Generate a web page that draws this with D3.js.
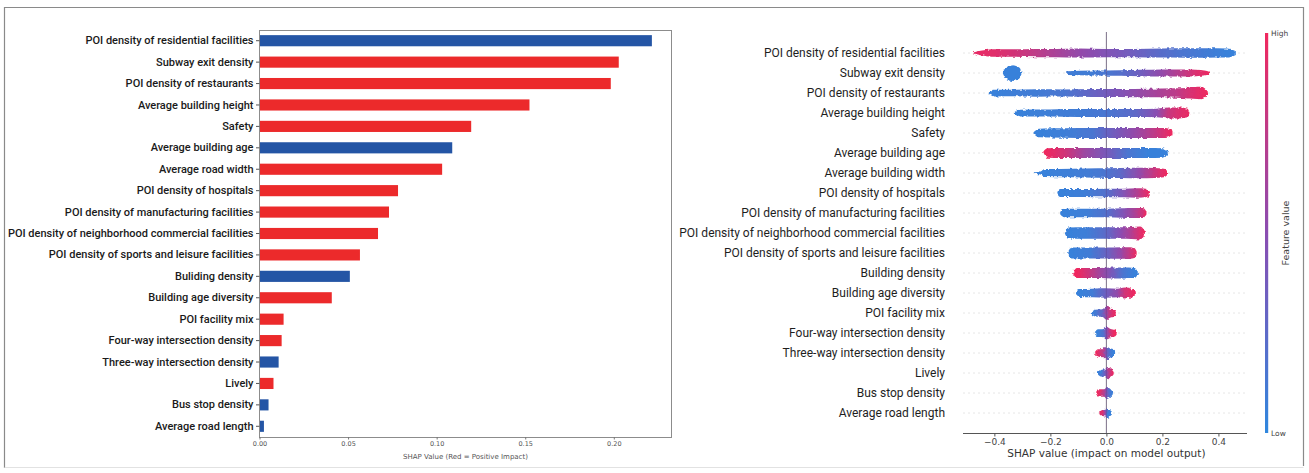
<!DOCTYPE html>
<html>
<head>
<meta charset="utf-8">
<script src="https://cdn.jsdelivr.net/npm/d3@7"></script>
<style>
  html, body { margin: 0; padding: 0; background: #fff; }
  svg { display: block; }
</style>
</head>
<body>
<svg id="chart" width="1309" height="473"></svg>
<script>
// ---------- Left panel: mean SHAP magnitude with direction of impact ----------
const barFeatures = [
  "POI density of residential facilities",
  "Subway exit density",
  "POI density of restaurants",
  "Average building height",
  "Safety",
  "Average building age",
  "Average road width",
  "POI density of hospitals",
  "POI density of manufacturing facilities",
  "POI density of neighborhood commercial facilities",
  "POI density of sports and leisure facilities",
  "Buliding density",
  "Building age diversity",
  "POI facility mix",
  "Four-way intersection density",
  "Three-way intersection density",
  "Lively",
  "Bus stop density",
  "Average road length"
];
const barValues = [0.2215, 0.2028, 0.1983, 0.1524, 0.1195, 0.1088, 0.1031, 0.0782, 0.0731,
                   0.0669, 0.0567, 0.0510, 0.0408, 0.0136, 0.0125, 0.0108, 0.0079, 0.0051, 0.0025];
// +1: positive impact (red), -1: negative impact (blue)
const barSigns = [-1, 1, 1, 1, 1, -1, 1, 1, 1, 1, 1, -1, 1, 1, 1, -1, 1, -1, -1];
const barTicks = [0, 0.05, 0.10, 0.15, 0.20];

// ---------- Right panel: SHAP summary (beeswarm) ----------
const swarmFeatures = [
  "POI density of residential facilities",
  "Subway exit density",
  "POI density of restaurants",
  "Average building height",
  "Safety",
  "Average building age",
  "Average building width",
  "POI density of hospitals",
  "POI density of manufacturing facilities",
  "POI density of neighborhood commercial facilities",
  "POI density of sports and leisure facilities",
  "Building density",
  "Building age diversity",
  "POI facility mix",
  "Four-way intersection density",
  "Three-way intersection density",
  "Lively",
  "Bus stop density",
  "Average road length"
];
// Per feature: [SHAP value, relative point density, mean feature value (0 low .. 1 high)]
const swarmProfiles = [
  [[-0.475,0.08,0.95],[-0.45,0.3,0.95],[-0.40,0.5,0.92],[-0.33,0.5,0.85],[-0.25,0.55,0.75],[-0.18,0.55,0.65],
   [-0.10,0.6,0.55],[0.0,0.55,0.45],[0.10,0.55,0.35],[0.20,0.6,0.22],[0.28,0.62,0.15],[0.36,0.62,0.1],[0.43,0.6,0.05],[0.462,0.25,0.05]],
  [[-0.37,0,0.05],[-0.36,0.7,0.05],[-0.335,1.05,0.05],[-0.31,0.7,0.05],[-0.30,0,0.05],[-0.145,0,0.1],[-0.14,0.25,0.1],
   [-0.05,0.32,0.1],[0.05,0.38,0.2],[0.12,0.42,0.35],[0.20,0.48,0.55],[0.27,0.48,0.75],[0.32,0.42,0.9],[0.355,0.3,0.95],[0.37,0.1,1.0]],
  [[-0.42,0.1,0.05],[-0.40,0.45,0.05],[-0.33,0.42,0.08],[-0.25,0.5,0.1],[-0.15,0.48,0.15],[-0.05,0.52,0.3],
   [0.05,0.52,0.45],[0.15,0.58,0.6],[0.25,0.62,0.75],[0.31,0.78,0.9],[0.34,0.82,0.95],[0.362,0.2,1.0]],
  [[-0.33,0.1,0.05],[-0.31,0.45,0.05],[-0.20,0.48,0.08],[-0.10,0.52,0.1],[0.0,0.52,0.15],[0.10,0.52,0.25],
   [0.18,0.58,0.5],[0.22,0.72,0.8],[0.26,0.72,0.9],[0.29,0.58,0.95],[0.296,0.1,1.0]],
  [[-0.26,0.1,0.05],[-0.24,0.58,0.05],[-0.15,0.62,0.08],[-0.05,0.66,0.15],[0.02,0.66,0.35],[0.10,0.66,0.55],
   [0.17,0.66,0.75],[0.21,0.66,0.9],[0.236,0.3,1.0]],
  [[-0.225,0.2,1.0],[-0.21,0.62,0.98],[-0.15,0.66,0.85],[-0.08,0.66,0.6],[0.0,0.66,0.4],[0.08,0.66,0.15],
   [0.15,0.66,0.05],[0.20,0.62,0.05],[0.219,0.2,0.05]],
  [[-0.255,0.1,0.05],[-0.235,0.2,0.05],[-0.22,0.52,0.05],[-0.12,0.58,0.08],[-0.03,0.62,0.12],[0.05,0.66,0.25],
   [0.12,0.7,0.55],[0.17,0.66,0.8],[0.205,0.58,0.95],[0.219,0.2,1.0]],
  [[-0.175,0.15,0.05],[-0.165,0.52,0.05],[-0.08,0.52,0.08],[0.0,0.58,0.2],[0.06,0.58,0.45],[0.11,0.62,0.7],
   [0.14,0.58,0.9],[0.155,0.2,1.0]],
  [[-0.165,0.15,0.05],[-0.15,0.56,0.05],[-0.07,0.56,0.08],[0.0,0.58,0.2],[0.06,0.62,0.45],[0.10,0.66,0.65],
   [0.13,0.66,0.85],[0.143,0.2,1.0]],
  [[-0.147,0.2,0.05],[-0.135,0.72,0.05],[-0.07,0.76,0.08],[0.0,0.76,0.25],[0.05,0.76,0.5],[0.09,0.8,0.7],
   [0.12,0.86,0.9],[0.137,0.3,1.0]],
  [[-0.136,0.2,0.05],[-0.125,0.72,0.05],[-0.06,0.72,0.1],[0.0,0.72,0.3],[0.05,0.76,0.55],[0.085,0.76,0.8],
   [0.10,0.68,0.92],[0.108,0.2,1.0]],
  [[-0.118,0.2,1.0],[-0.105,0.68,1.0],[-0.07,0.68,0.85],[-0.02,0.68,0.6],[0.02,0.72,0.4],[0.06,0.72,0.15],
   [0.10,0.68,0.05],[0.112,0.2,0.05]],
  [[-0.108,0.15,0.05],[-0.095,0.52,0.05],[-0.05,0.58,0.1],[0.0,0.62,0.35],[0.04,0.58,0.55],[0.065,0.72,0.85],
   [0.09,0.58,0.95],[0.105,0.2,1.0]],
  [[-0.052,0.2,0.05],[-0.04,0.45,0.1],[-0.015,0.5,0.3],[0.0,0.9,0.6],[0.015,0.6,0.85],[0.028,0.45,0.95],[0.034,0.15,1.0]],
  [[-0.04,0.2,0.05],[-0.03,0.5,0.05],[-0.01,0.55,0.2],[0.0,0.85,0.5],[0.015,0.55,0.85],[0.03,0.45,1.0],[0.037,0.15,1.0]],
  [[-0.04,0.2,1.0],[-0.03,0.5,0.95],[-0.01,0.55,0.7],[0.0,0.85,0.4],[0.015,0.6,0.1],[0.026,0.5,0.05],[0.031,0.15,0.05]],
  [[-0.03,0.2,0.05],[-0.02,0.45,0.1],[-0.005,0.5,0.35],[0.003,0.8,0.6],[0.018,0.5,0.9],[0.026,0.15,1.0]],
  [[-0.036,0.2,1.0],[-0.025,0.5,0.95],[-0.008,0.5,0.7],[0.002,0.8,0.35],[0.015,0.5,0.1],[0.023,0.15,0.05]],
  [[-0.025,0.15,0.95],[-0.015,0.4,0.9],[-0.003,0.45,0.5],[0.003,0.75,0.1],[0.012,0.45,0.05],[0.02,0.15,0.05]]
];
const swarmTicks = [-0.4, -0.2, 0.0, 0.2, 0.4];

// ---------- Drawing ----------
const svg = d3.select("#chart");
const defs = svg.append("defs");
const RED = "#ec2a2b", BLUE = "#2455a5";

// speckled edge so the swarm reads as packed dots
const speckle = defs.append("filter").attr("id", "speckle")
  .attr("x", "-5%").attr("y", "-60%").attr("width", "110%").attr("height", "220%");
speckle.append("feTurbulence").attr("type", "fractalNoise")
  .attr("baseFrequency", "0.3 0.45").attr("numOctaves", 2).attr("seed", 7).attr("result", "noise");
speckle.append("feDisplacementMap").attr("in", "SourceGraphic").attr("in2", "noise")
  .attr("scale", 3.6).attr("xChannelSelector", "R").attr("yChannelSelector", "G");

// outer frame
svg.append("path")
  .attr("d", "M4.5,468V7.5H1303.5V466")
  .attr("fill", "none").attr("stroke", "#8a8a8a").attr("stroke-width", 1.2);
svg.append("line").attr("x1", 4.5).attr("x2", 1303.5).attr("y1", 467.5).attr("y2", 467.5)
  .attr("stroke", "#e2e2e2").attr("stroke-width", 1);

// ----- bar chart -----
const L = { left: 259.5, right: 671.5, top: 30, bottom: 437 };
const xBar = d3.scaleLinear().domain([0, d3.max(barValues) * 1.05]).range([L.left, L.right]);
const yBar = d3.scaleBand().domain(barFeatures).range([L.top, L.bottom])
  .paddingInner(0.48).paddingOuter(0.24);

const gL = svg.append("g");
gL.selectAll("rect.bar").data(barFeatures).join("rect")
  .attr("class", "bar")
  .attr("x", xBar(0))
  .attr("y", d => yBar(d))
  .attr("width", (d, i) => xBar(barValues[i]) - xBar(0))
  .attr("height", yBar.bandwidth())
  .attr("fill", (d, i) => barSigns[i] > 0 ? RED : BLUE);

// spines
gL.append("rect").attr("x", L.left).attr("y", L.top + 0.5)
  .attr("width", L.right - L.left).attr("height", L.bottom - L.top)
  .attr("fill", "none").attr("stroke", "#8c8c8c").attr("stroke-width", 1);

const yAxisL = gL.append("g").attr("transform", `translate(${L.left},0)`)
  .call(d3.axisLeft(yBar).tickSize(3.5).tickPadding(2.5));
yAxisL.select(".domain").remove();
yAxisL.selectAll(".tick line").attr("stroke", "#555");
yAxisL.selectAll(".tick text")
  .attr("fill", "#1a1a1a")
  .style("font-family", "Roboto, 'Liberation Sans', sans-serif")
  .style("font-weight", "500")
  .style("font-size", "11px");

const xAxisL = gL.append("g").attr("transform", `translate(0,${L.bottom})`)
  .call(d3.axisBottom(xBar).tickValues(barTicks).tickFormat(d3.format(".2f")).tickSize(2.5).tickPadding(2));
xAxisL.select(".domain").remove();
xAxisL.selectAll(".tick line").attr("stroke", "#777");
xAxisL.selectAll(".tick text")
  .attr("fill", "#555")
  .style("font-family", "'DejaVu Sans', sans-serif")
  .style("font-size", "6.5px");

gL.append("text")
  .attr("x", (L.left + L.right) / 2).attr("y", 459)
  .attr("text-anchor", "middle")
  .attr("fill", "#555")
  .style("font-family", "'DejaVu Sans', sans-serif")
  .style("font-size", "7px")
  .text("SHAP Value (Red = Positive Impact)");

// ----- beeswarm summary -----
const R = { left: 963, right: 1247, top: 33, bottom: 433 };
const xSw = d3.scaleLinear().domain([-0.512, 0.502]).range([R.left, R.right]);
const ySw = d3.scalePoint().domain(swarmFeatures).range([53, 413]);
const featureColor = d3.scaleLinear().domain([0, 0.5, 1])
  .range(["#2f87de", "#8a4db1", "#f0285e"]).interpolate(d3.interpolateRgb);
const density = d3.scaleLinear().domain([0, 1]).range([0, 7.5]);

const gR = svg.append("g");

// faint row guides
gR.selectAll("line.guide").data(swarmFeatures).join("line")
  .attr("class", "guide")
  .attr("x1", R.left).attr("x2", R.right)
  .attr("y1", d => ySw(d)).attr("y2", d => ySw(d))
  .attr("stroke", "#e0e0e0").attr("stroke-width", 0.8).attr("stroke-dasharray", "2,3");

// zero line
gR.append("line")
  .attr("x1", xSw(0)).attr("x2", xSw(0))
  .attr("y1", R.top - 1).attr("y2", R.bottom)
  .attr("stroke", "#999").attr("stroke-width", 1);

const gSwarm = gR.append("g").attr("filter", "url(#speckle)");
swarmProfiles.forEach((prof, i) => {
  const cy = ySw(swarmFeatures[i]);
  const v0 = prof[0][0], v1 = prof[prof.length - 1][0];
  const grad = defs.append("linearGradient")
    .attr("id", "sw" + i)
    .attr("gradientUnits", "userSpaceOnUse")
    .attr("x1", xSw(v0)).attr("x2", xSw(v1)).attr("y1", 0).attr("y2", 0);
  prof.forEach(p => {
    grad.append("stop")
      .attr("offset", (p[0] - v0) / (v1 - v0))
      .attr("stop-color", featureColor(p[2]));
  });
  const area = d3.area()
    .x(d => xSw(d[0]))
    .y0(d => cy - density(d[1]))
    .y1(d => cy + density(d[1]))
    .curve(d3.curveMonotoneX);
  gSwarm.append("path")
    .datum(prof)
    .attr("d", area)
    .attr("fill", `url(#sw${i})`);
});

// zero line showing through the swarm
gR.append("line")
  .attr("x1", xSw(0)).attr("x2", xSw(0))
  .attr("y1", R.top - 1).attr("y2", R.bottom)
  .attr("stroke", "#5a3a7a").attr("stroke-width", 1).attr("stroke-opacity", 0.35);

gR.selectAll("text.ylab").data(swarmFeatures).join("text")
  .attr("class", "ylab")
  .attr("x", 945).attr("y", d => ySw(d))
  .attr("dy", "0.35em")
  .attr("text-anchor", "end")
  .attr("fill", "#1e1e1e")
  .style("font-family", "Roboto, 'Liberation Sans', sans-serif")
  .style("font-size", "12px")
  .text(d => d);

const xAxisR = gR.append("g").attr("transform", `translate(0,${R.bottom})`)
  .call(d3.axisBottom(xSw).tickValues(swarmTicks).tickFormat(d => d3.format(".1f")(d).replace("-", "\u2212")).tickSize(3.5).tickPadding(2));
xAxisR.select(".domain").attr("stroke", "#555").attr("d", `M${R.left},0.5H${R.right}`);
xAxisR.selectAll(".tick line").attr("stroke", "#555");
xAxisR.selectAll(".tick text")
  .attr("fill", "#444")
  .style("font-family", "'DejaVu Sans', sans-serif")
  .style("font-size", "9px");

gR.append("text")
  .attr("x", xSw(0)).attr("y", 457)
  .attr("text-anchor", "middle")
  .attr("fill", "#333")
  .style("font-family", "'DejaVu Sans', sans-serif")
  .style("font-size", "10.5px")
  .text("SHAP value (impact on model output)");

// colour bar
const cbGrad = defs.append("linearGradient").attr("id", "cb")
  .attr("x1", 0).attr("x2", 0).attr("y1", 1).attr("y2", 0);
[0, 0.25, 0.5, 0.75, 1].forEach(t => {
  cbGrad.append("stop").attr("offset", t).attr("stop-color", featureColor(t));
});
gR.append("rect")
  .attr("x", 1265).attr("y", R.top).attr("width", 3.2).attr("height", R.bottom - R.top)
  .attr("fill", "url(#cb)");
const cbText = (y, t) => gR.append("text")
  .attr("x", 1271).attr("y", y).attr("dy", "0.35em")
  .attr("fill", "#444")
  .style("font-family", "'DejaVu Sans', sans-serif")
  .style("font-size", "7.5px")
  .text(t);
cbText(R.top, "High");
cbText(R.bottom, "Low");
gR.append("text")
  .attr("transform", `translate(1289,${(R.top + R.bottom) / 2}) rotate(-90)`)
  .attr("text-anchor", "middle")
  .attr("fill", "#444")
  .style("font-family", "'DejaVu Sans', sans-serif")
  .style("font-size", "9.5px")
  .text("Feature value");
</script>
</body>
</html>
